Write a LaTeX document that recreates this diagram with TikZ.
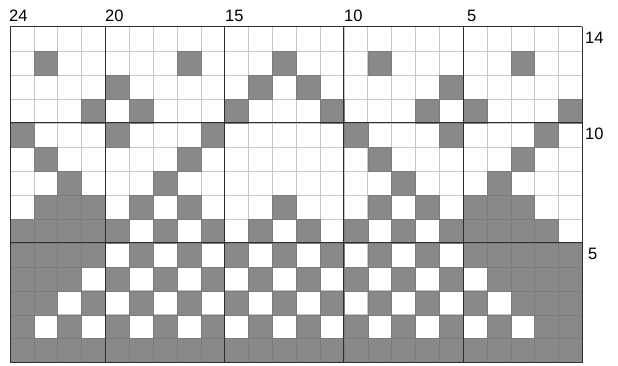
\documentclass[tikz,border=0pt]{standalone}
\usepackage{fontspec}
\setmainfont{Liberation Sans}
\definecolor{cellgray}{RGB}{137,137,137}
\definecolor{celledge}{RGB}{124,124,124}
\definecolor{gridthin}{RGB}{200,200,200}
\definecolor{gridthick}{RGB}{45,45,45}
\tikzset{
  thinline/.style={draw=gridthin, line width=0.6pt},
  thickline/.style={draw=gridthick, line width=1pt},
  darkcell/.style={fill=cellgray, draw=celledge, line width=0.5pt},
  numlabel/.style={inner sep=0pt, font=\fontsize{16.5}{18}\selectfont},
}
\begin{document}
\begin{tikzpicture}[x=1pt,y=-1pt]
\useasboundingbox (0,0) rectangle (618,366);
\def\cw{23.85}
\def\ch{23.98}
% thin grid
\foreach \c in {1,...,23} {
  \draw[thinline] ({10+\c*\cw},27) -- ({10+\c*\cw},{27+14*\ch});
}
\foreach \r in {1,...,13} {
  \draw[thinline] (10,{27+\r*\ch}) -- ({10+24*\cw},{27+\r*\ch});
}
% filled cells
\foreach \r/\list in {
  1/{1,7,11,15,21},
  2/{4,10,12,18},
  3/{3,5,9,13,17,19,23},
  4/{0,4,8,14,18,22},
  5/{1,7,15,21},
  6/{2,6,16,20},
  7/{1,2,3,5,7,11,15,17,19,20,21},
  8/{0,1,2,3,4,6,8,10,12,14,16,18,19,20,21,22},
  9/{0,1,2,3,5,7,9,11,13,15,17,19,20,21,22,23},
  10/{0,1,2,4,6,8,10,12,14,16,18,20,21,22,23},
  11/{0,1,3,5,7,9,11,13,15,17,19,21,22,23},
  12/{0,2,4,6,8,10,12,14,16,18,20,22,23},
  13/{0,1,2,3,4,5,6,7,8,9,10,11,12,13,14,15,16,17,18,19,20,21,22,23}}{
  \foreach \c in \list {
    \path[darkcell] ({10+\c*\cw},{27+\r*\ch}) rectangle ++(\cw,\ch);
  }
}
% thick grid
\foreach \c in {0,4,9,14,19,24} {
  \draw[thickline] ({10+\c*\cw},27) -- ({10+\c*\cw},{27+14*\ch});
}
\foreach \r in {0,4,9,14} {
  \draw[thickline] (10,{27+\r*\ch}) -- ({10+24*\cw},{27+\r*\ch});
}
% column numbers
\node[numlabel, anchor=base west] (col24) at (9,22) {24};
\node[numlabel, anchor=base west] (col20) at (105,22) {20};
\node[numlabel, anchor=base west] (col15) at (225,22) {15};
\node[numlabel, anchor=base west] (col10) at (344,22) {10};
\node[numlabel, anchor=base west] (col5) at (467,22) {5};
% row numbers
\node[numlabel, anchor=base west] (row14) at (585,43.5) {14};
\node[numlabel, anchor=base west] (row10) at (585,140) {10};
\node[numlabel, anchor=base west] (row5) at (588,259) {5};
\end{tikzpicture}
\end{document}
